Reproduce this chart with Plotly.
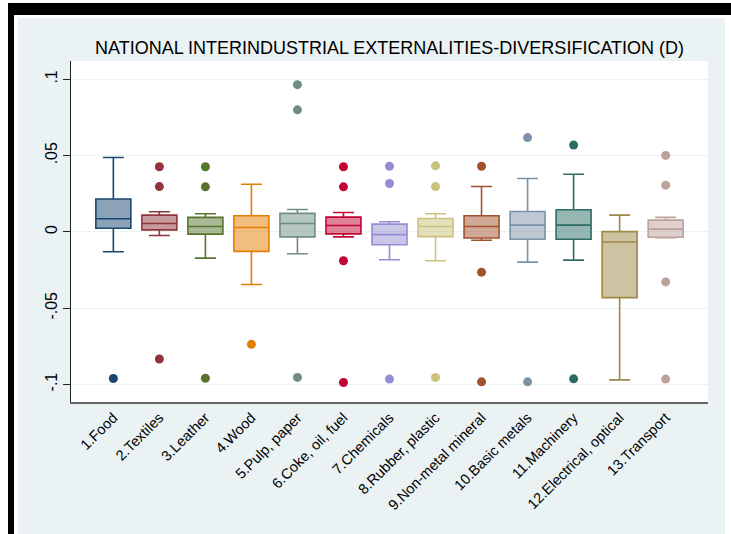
import plotly.graph_objects as go

categories = ["1.Food", "2.Textiles", "3.Leather", "4.Wood", "5.Pulp, paper",
              "6.Coke, oil, fuel", "7.Chemicals", "8.Rubber, plastic",
              "9.Non-metal mineral", "10.Basic metals", "11.Machinery",
              "12.Electrical, optical", "13.Transport"]

lower_whisker = [-0.0130, -0.0024, -0.0172, -0.0345, -0.0143, -0.0033, -0.0183,
                 -0.0189, -0.0055, -0.0198, -0.0185, -0.0970, -0.0038]
q1 = [0.0024, 0.0013, -0.0015, -0.0128, -0.0033, -0.0013, -0.0084,
      -0.0031, -0.0040, -0.0048, -0.0048, -0.0431, -0.0035]
median = [0.0086, 0.0055, 0.0035, 0.0029, 0.0055, 0.0042, -0.0018,
          0.0035, 0.0035, 0.0044, 0.0044, -0.0066, 0.0018]
q3 = [0.0216, 0.0110, 0.0095, 0.0106, 0.0121, 0.0097, 0.0051,
      0.0088, 0.0106, 0.0134, 0.0145, 0.0002, 0.0077]
upper_whisker = [0.0488, 0.0132, 0.0119, 0.0312, 0.0147, 0.0127, 0.0066,
                 0.0119, 0.0297, 0.0350, 0.0378, 0.0110, 0.0095]
outliers = [
    [-0.0961],
    [0.0427, 0.0297, -0.0833],
    [0.0427, 0.0295, -0.0959],
    [-0.0737],
    [0.0965, 0.0800, -0.0954],
    [0.0427, 0.0295, -0.0189, -0.0987],
    [0.0430, 0.0317, -0.0965],
    [0.0433, 0.0297, -0.0954],
    [0.0430, -0.0264, -0.0983],
    [0.0618, -0.0983],
    [0.0569, -0.0963],
    [],
    [0.0501, 0.0306, -0.0328, -0.0965],
]

colors = [(26, 71, 111), (144, 53, 59), (85, 117, 47), (227, 126, 0),
          (110, 142, 132), (193, 5, 52), (147, 141, 210), (202, 194, 126),
          (160, 82, 45), (123, 146, 168), (45, 109, 102), (156, 136, 71),
          (191, 161, 156)]

ytick_vals = [-0.1, -0.05, 0, 0.05, 0.1]
ytick_text = ["-.1", "-.05", "0", ".05", ".1"]

FONT = "Liberation Sans, Arial, Helvetica, sans-serif"
BG = "#eaf2f3"

fig = go.Figure()
for i, cat in enumerate(categories):
    r, g, b = colors[i]
    line_c = f"rgb({r},{g},{b})"
    fill_c = f"rgba({r},{g},{b},0.5)"
    fig.add_trace(go.Box(
        x=[cat], q1=[q1[i]], median=[median[i]], q3=[q3[i]],
        lowerfence=[lower_whisker[i]], upperfence=[upper_whisker[i]],
        name=cat, width=0.76, whiskerwidth=0.6,
        line=dict(color=line_c, width=1.6), fillcolor=fill_c,
        boxpoints=False, showlegend=False, hoverinfo="skip",
    ))
    if outliers[i]:
        fig.add_trace(go.Scatter(
            x=[cat] * len(outliers[i]), y=outliers[i], mode="markers",
            marker=dict(color=line_c, size=9, line=dict(width=0)),
            showlegend=False, hoverinfo="skip",
        ))

PL, PR, PT, PB = 71, 708, 61, 402


def px_rect(x0, y0, x1, y1, color):
    return dict(type="rect", xref="paper", yref="paper", layer="below",
                x0=(x0 - PL) / (PR - PL), x1=(x1 - PL) / (PR - PL),
                y0=(PB - y0) / (PB - PT), y1=(PB - y1) / (PB - PT),
                line=dict(width=0), fillcolor=color)


shapes = [
    px_rect(0, 0, 731, 18, "white"),
    px_rect(0, 0, 18, 534, "white"),
    px_rect(725, 0, 731, 534, "white"),
    px_rect(8, 3, 731, 15, "black"),
    px_rect(8, 3, 14, 534, "black"),
]

fig.update_layout(
    width=731, height=534,
    margin=dict(l=PL, r=731 - PR, t=PT, b=534 - PB),
    paper_bgcolor=BG, plot_bgcolor="white",
    font=dict(family=FONT, color="black"),
    title=dict(text="NATIONAL INTERINDUSTRIAL EXTERNALITIES-DIVERSIFICATION (D)",
               x=0.5, xref="paper", xanchor="center",
               y=1 - 48 / 534, yref="container", yanchor="middle",
               font=dict(size=18, color="black", family=FONT)),
    shapes=shapes,
    showlegend=False,
    hovermode=False,
)
fig.update_xaxes(
    type="category", categoryorder="array", categoryarray=categories,
    range=[-0.92, 12.92], tickangle=-45, tickfont=dict(size=14.5, family=FONT),
    showgrid=False, showline=True, linecolor="#666666", linewidth=1.5,
    ticks="", zeroline=False, fixedrange=True,
)
fig.update_yaxes(
    range=[-0.1115, 0.112], tickvals=ytick_vals, ticktext=ytick_text,
    tickangle=-90, tickfont=dict(size=16, family=FONT), ticklabelstandoff=0,
    showgrid=True, gridcolor=BG, gridwidth=1.2, zeroline=False,
    showline=True, linecolor="#222222", linewidth=1,
    ticks="outside", ticklen=7, tickcolor="#222222", tickwidth=1,
    fixedrange=True,
)

fig.write_html("out.html",
               config={"displayModeBar": False, "staticPlot": True},
               post_script="document.body.style.margin='0px';"
                           "document.body.style.overflow='hidden';")
